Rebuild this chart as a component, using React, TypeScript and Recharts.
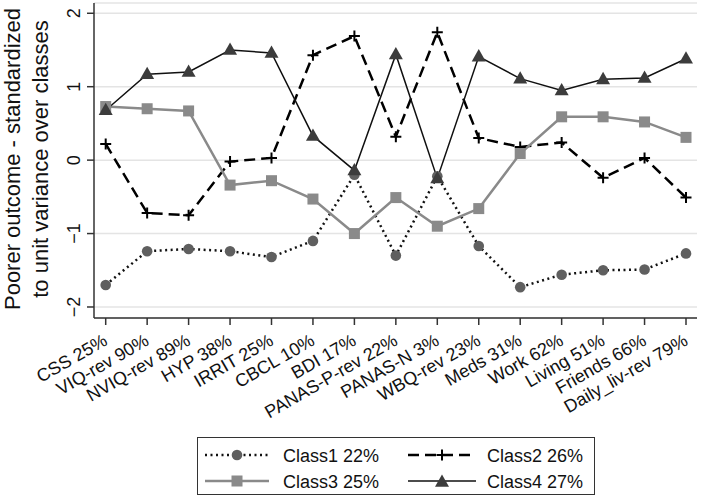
import React from "react";
import { LineChart, Line, XAxis, YAxis, CartesianGrid, Legend } from "recharts";

const categories = ["CSS 25%", "VIQ-rev 90%", "NVIQ-rev 89%", "HYP 38%", "IRRIT 25%", "CBCL 10%", "BDI 17%", "PANAS-P-rev 22%", "PANAS-N 3%", "WBQ-rev 23%", "Meds 31%", "Work 62%", "Living 51%", "Friends 66%", "Daily_liv-rev 79%"];
const class1 = [-1.7, -1.24, -1.21, -1.24, -1.32, -1.1, -0.2, -1.3, -0.22, -1.17, -1.73, -1.56, -1.5, -1.49, -1.27];
const class2 = [0.22, -0.72, -0.75, -0.02, 0.03, 1.43, 1.69, 0.32, 1.74, 0.3, 0.18, 0.24, -0.24, 0.03, -0.51];
const class3 = [0.73, 0.7, 0.67, -0.34, -0.28, -0.53, -1.0, -0.51, -0.9, -0.66, 0.09, 0.59, 0.59, 0.52, 0.31];
const class4 = [0.68, 1.17, 1.2, 1.5, 1.46, 0.33, -0.14, 1.44, -0.25, 1.41, 1.11, 0.95, 1.1, 1.12, 1.38];
const seriesNames = ["Class1 22%", "Class2 26%", "Class3 25%", "Class4 27%"];
const yTicks = [-2, -1, 0, 1, 2];

const data = categories.map((c, i) => ({ cat: c, c1: class1[i], c2: class2[i], c3: class3[i], c4: class4[i] }));

const FONT = "'Liberation Sans', Arial, Helvetica, sans-serif";
const C1 = "#5f5f5f";
const C3 = "#8a8a8a";
const C4 = "#3c3c3c";

const circle = (cx: number, cy: number, key?: any) => <circle key={key} cx={cx} cy={cy} r={5.3} fill={C1} stroke="none" />;
const plus = (cx: number, cy: number, key?: any) => (
  <path key={key} d={`M${cx - 5.5},${cy}H${cx + 5.5}M${cx},${cy - 5.5}V${cy + 5.5}`} stroke="#000" strokeWidth={2} fill="none" />
);
const square = (cx: number, cy: number, key?: any) => <rect key={key} x={cx - 5.5} y={cy - 5.5} width={11} height={11} fill={C3} stroke="none" />;
const tri = (cx: number, cy: number, key?: any) => (
  <path key={key} d={`M${cx},${cy - 7.5}L${cx + 7},${cy + 4.8}L${cx - 7},${cy + 4.8}Z`} fill={C4} stroke="none" />
);

const mkDot = (fn: any) => (p: any) => fn(p.cx, p.cy, `d${p.index}`);

const XTick = (props: any) => {
  const { x, payload } = props;
  const ax = x + 3;
  const ay = 344;
  return (
    <text x={ax} y={ay} transform={`rotate(-30, ${ax}, ${ay})`} textAnchor="end" fontSize={18} fontFamily={FONT} fill="#111">
      {payload.value}
    </text>
  );
};

const YTick = (props: any) => {
  const { y, payload } = props;
  const ax = 80;
  return (
    <text x={ax} y={y} transform={`rotate(-90, ${ax}, ${y})`} textAnchor="middle" fontSize={18} fontFamily={FONT} fill="#111">
      {payload.value === -2 ? "\u22122" : payload.value === -1 ? "\u22121" : String(payload.value)}
    </text>
  );
};

const YLabel = () => (
  <g fontSize={22} fontFamily={FONT} fill="#111">
    <text x={20} y={159} transform="rotate(-90, 20, 159)" textAnchor="middle">Poorer outcome - standardized</text>
    <text x={48} y={159} transform="rotate(-90, 48, 159)" textAnchor="middle">to unit variance over classes</text>
  </g>
);

const LegendBox = () => (
  <div style={{ width: 398, height: 58, border: "1px solid #333", boxSizing: "border-box", background: "#fff" }}>
    <svg width={396} height={56} style={{ display: "block" }}>
      <g fontSize={18} fontFamily={FONT} fill="#111">
        <line x1={7} x2={71} y1={17} y2={17} stroke="#111" strokeWidth={2.5} strokeDasharray="2 3.5" />
        {circle(39, 17)}
        <text x={85} y={23.5}>{seriesNames[0]}</text>
        <line x1={210} x2={278} y1={17} y2={17} stroke="#000" strokeWidth={2.5} strokeDasharray="11 6" />
        {plus(244, 17)}
        <text x={289} y={23.5}>{seriesNames[1]}</text>
        <line x1={7} x2={71} y1={43} y2={43} stroke={C3} strokeWidth={2.5} />
        {square(39, 43)}
        <text x={85} y={49.5}>{seriesNames[2]}</text>
        <line x1={210} x2={278} y1={43} y2={43} stroke="#111" strokeWidth={1.5} />
        {tri(244, 44)}
        <text x={289} y={49.5}>{seriesNames[3]}</text>
      </g>
    </svg>
  </div>
);

function YLabelHolder() {
  return (
    <svg width={60} height={330} style={{ position: "absolute", left: 0, top: 0, pointerEvents: "none" }}>
      <YLabel />
    </svg>
  );
}

export default function App() {
  return (
    <div style={{ position: "absolute", left: 0, top: 0, width: 709, height: 496, background: "#fff" }}>
      <LineChart width={709} height={496} data={data} margin={{ top: 3, right: 12, bottom: 0, left: 0 }}>
        <CartesianGrid horizontal={true} vertical={false} stroke="#e4e4e4" strokeWidth={1.5} />
        <XAxis
          dataKey="cat"
          type="category"
          interval={0}
          height={178}
          tickSize={7}
          tick={<XTick />}
          padding={{ left: 11.7, right: 11 }}
          stroke="#333"
          strokeWidth={1.5}
        />
        <YAxis
          type="number"
          domain={[-2.15, 2.14]}
          ticks={yTicks}
          width={94}
          tickSize={7}
          tick={<YTick />}
          stroke="#333"
          strokeWidth={1.5}
          allowDataOverflow
        />
        <Legend layout="horizontal" verticalAlign="middle" align="center" content={<LegendBox />} wrapperStyle={{ left: 197, top: 437, width: 398, height: 58 }} />
        <Line dataKey="c1" name={seriesNames[0]} stroke="#111" strokeWidth={2.5} strokeDasharray="2 3.5" dot={mkDot(circle)} activeDot={false} isAnimationActive={false} />
        <Line dataKey="c2" name={seriesNames[1]} stroke="#000" strokeWidth={2.5} strokeDasharray="11 6" dot={mkDot(plus)} activeDot={false} isAnimationActive={false} />
        <Line dataKey="c3" name={seriesNames[2]} stroke={C3} strokeWidth={2.5} dot={mkDot(square)} activeDot={false} isAnimationActive={false} />
        <Line dataKey="c4" name={seriesNames[3]} stroke="#111" strokeWidth={1.5} dot={mkDot(tri)} activeDot={false} isAnimationActive={false} />
      </LineChart>
      <YLabelHolder />
    </div>
  );
}
